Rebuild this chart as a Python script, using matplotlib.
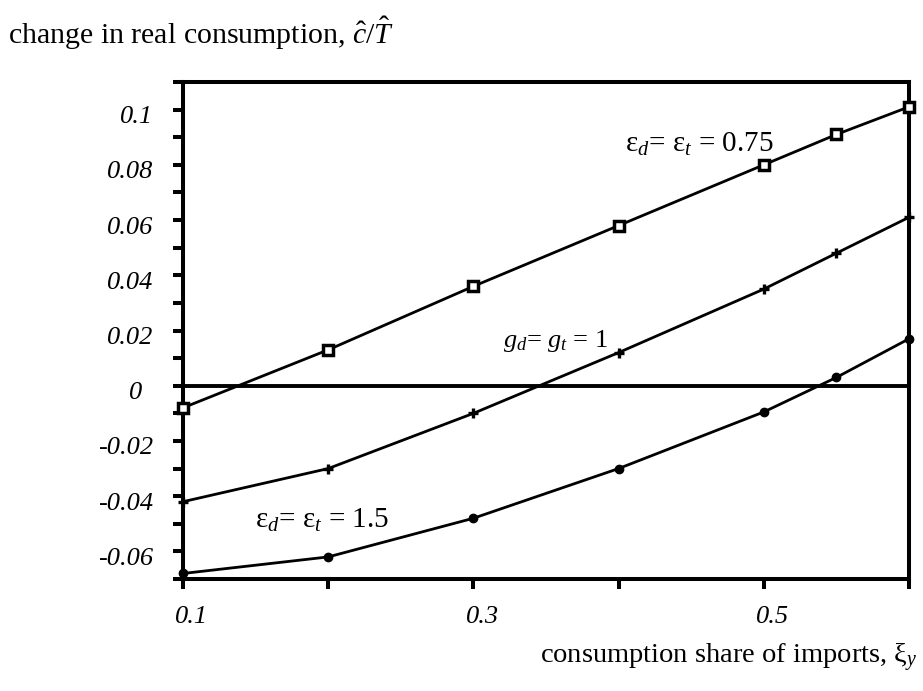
import matplotlib
matplotlib.use("Agg")
import matplotlib.pyplot as plt
import matplotlib.transforms as mtransforms
from matplotlib.ticker import FixedLocator, NullFormatter

plt.rcParams['font.family'] = ['Liberation Serif', 'DejaVu Serif']
plt.rcParams['mathtext.fontset'] = 'custom'
plt.rcParams['mathtext.rm'] = 'Liberation Serif'
plt.rcParams['mathtext.it'] = 'Liberation Serif:italic'

# data
share = [0.1, 0.2, 0.3, 0.4, 0.5, 0.55, 0.6]
eps_075 = [-0.008, 0.013, 0.036, 0.058, 0.080, 0.091, 0.101]
g_1 = [-0.042, -0.030, -0.010, 0.012, 0.035, 0.048, 0.061]
eps_15 = [-0.068, -0.062, -0.048, -0.030, -0.0095, 0.003, 0.017]

xtick_major = [0.1, 0.3, 0.5]
xtick_labels = ['0.1', '0.3', '0.5']
xtick_minor = [0.2, 0.4, 0.6]
ytick_major = [-0.06, -0.04, -0.02, 0.0, 0.02, 0.04, 0.06, 0.08, 0.1]
ytick_labels = ['-0.06', '-0.04', '-0.02', '0', '0.02', '0.04', '0.06', '0.08', '0.1']
ytick_minor = [-0.07, -0.05, -0.03, -0.01, 0.01, 0.03, 0.05, 0.07, 0.09, 0.11]

W, H = 923, 691
fig = plt.figure(figsize=(W / 100, H / 100), dpi=100)
ax = fig.add_axes([183 / W, 1 - 579 / H, (909 - 183) / W, (579 - 82) / H])

ax.set_xlim(0.1, 0.6)
ax.set_ylim(-0.07, 0.11)

ax.axhline(0, color='black', lw=2.8, zorder=2)

ax.plot(share, eps_075, color='black', lw=2.0, marker='s', ms=6.5, mfc='white',
        mec='black', mew=2.5, zorder=3, clip_on=False)
ax.plot(share, g_1, color='black', lw=2.0, marker='+', ms=7, mew=2.4,
        zorder=3, clip_on=False)
ax.plot(share, eps_15, color='black', lw=2.0, marker='o', ms=6, mfc='black',
        mec='black', zorder=3, clip_on=False)

for s in ax.spines.values():
    s.set_linewidth(2.9)

ax.xaxis.set_major_locator(FixedLocator(xtick_major))
ax.xaxis.set_minor_locator(FixedLocator(xtick_minor))
ax.set_xticklabels(xtick_labels)
ax.yaxis.set_major_locator(FixedLocator(ytick_major))
ax.yaxis.set_minor_locator(FixedLocator(ytick_minor))
ax.set_yticklabels(ytick_labels)
ax.yaxis.set_minor_formatter(NullFormatter())

ax.tick_params(axis='both', which='both', direction='out', width=2.9,
               length=7.5, labelsize=19)
ax.tick_params(axis='y', which='major', pad=14)
ax.tick_params(axis='x', which='major', pad=12)
for lab in ax.get_yticklabels() + ax.get_xticklabels():
    lab.set_fontstyle('italic')

# shift tick labels slightly as in the reference
dy = mtransforms.ScaledTranslation(0, -5 / 100, fig.dpi_scale_trans)
dy0 = mtransforms.ScaledTranslation(-11 / 100, -5 / 100, fig.dpi_scale_trans)
for lab in ax.get_yticklabels():
    if lab.get_text() == '0':
        lab.set_transform(lab.get_transform() + dy0)
    else:
        lab.set_transform(lab.get_transform() + dy)
dx = mtransforms.ScaledTranslation(9 / 100, 0, fig.dpi_scale_trans)
for lab in ax.get_xticklabels():
    lab.set_transform(lab.get_transform() + dx)

# annotations
fig.text(625 / W, 1 - 152 / H, r'ε$_{d}$= ε$_{t}$ = 0.75', fontsize=21,
         ha='left', va='baseline')
fig.text(503 / W, 1 - 347 / H, r'$g_{d}$= $g_{t}$ = $1$', fontsize=19,
         ha='left', va='baseline')
fig.text(255 / W, 1 - 528 / H, r'ε$_{d}$= ε$_{t}$ = 1.5', fontsize=21,
         ha='left', va='baseline')

fig.text(8 / W, 1 - 44 / H, r'change in real consumption, $\hat{c}/\hat{T}$',
         fontsize=21.5, ha='left', va='baseline')
fig.text(918 / W, 1 - 663 / H, r'consumption share of imports, ξ$_{y}$',
         fontsize=20.5, ha='right', va='baseline')

fig.savefig('out.png', dpi=100)
